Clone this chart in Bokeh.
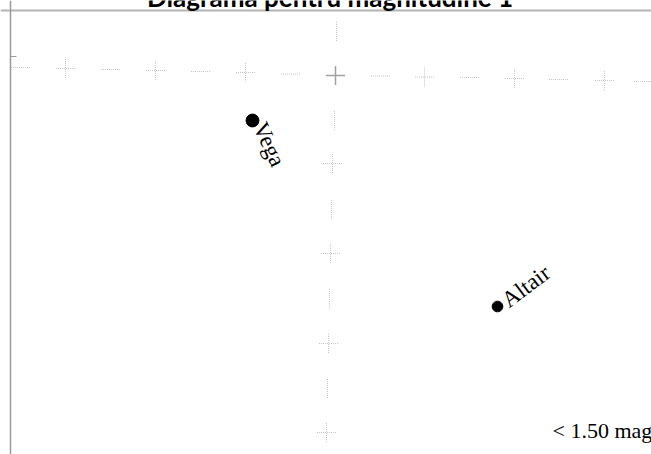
from bokeh.plotting import figure
from bokeh.models import Range1d, Label, Span
from bokeh.core.properties import value
from bokeh.embed import file_html
from bokeh.resources import INLINE

# ---- data (chart coordinates) ----
title_text = "Diagrama  pentru  magnitudine  1"
limit_text = "< 1.50 mag"

star_names = ["Vega", "Altair"]
star_x = [252, 497]
star_y = [120, 306]
star_mag = [0.03, 0.77]

# reference grid: one parallel (row) and one meridian (column)
row_cross_x = [65, 155, 245, 424, 514, 604]
row_cross_y = [68, 70, 72, 76.5, 78, 80]
row_dash_x = [20, 110, 200, 290, 380, 469, 558, 643]
row_dash_y = [67, 69, 71, 73.5, 75.5, 77, 79, 81]
col_cross_x = [332, 330, 328, 326]
col_cross_y = [163, 253, 343, 432]
col_dash_x = [336, 334, 331, 329, 327]
col_dash_y = [31, 120, 209, 298, 388]
center_x = [335]
center_y = [75]
left_tick_y = [56]

# ---- styles ----
ARM = 9.5
GRID_COL = "#c4c4c4"
SERIF = value("Liberation Serif")

p = figure(width=651, height=454, output_backend="svg", toolbar_location=None,
           x_range=Range1d(0, 651), y_range=Range1d(454, 0),
           x_axis_type=None, y_axis_type=None, min_border=0,
           outline_line_color=None, background_fill_color="white",
           border_fill_color="white")
p.grid.visible = False

# frame lines
p.add_layout(Span(location=10, dimension="width", line_color="#b4b4b4", line_width=2))
p.add_layout(Span(location=10, dimension="height", line_color="#9a9a9a", line_width=1.5))
p.segment(x0=[10] * len(left_tick_y), y0=left_tick_y,
          x1=[16] * len(left_tick_y), y1=left_tick_y, line_color="#9a9a9a", line_width=1)

# small dotted crosses
cx = row_cross_x + col_cross_x
cy = row_cross_y + col_cross_y
p.segment(x0=[x - ARM for x in cx], y0=cy, x1=[x + ARM for x in cx], y1=cy,
          line_color=GRID_COL, line_width=1, line_dash="1 1")
p.segment(x0=cx, y0=[y - ARM for y in cy], x1=cx, y1=[y + ARM for y in cy],
          line_color=GRID_COL, line_width=1, line_dash="1 1")
# dotted dashes
p.segment(x0=[x - ARM for x in row_dash_x], y0=row_dash_y,
          x1=[x + ARM for x in row_dash_x], y1=row_dash_y,
          line_color=GRID_COL, line_width=1, line_dash="1 1")
p.segment(x0=col_dash_x, y0=[y - ARM for y in col_dash_y],
          x1=col_dash_x, y1=[y + ARM for y in col_dash_y],
          line_color=GRID_COL, line_width=1, line_dash="1 1")
# center cross
p.segment(x0=[x - ARM for x in center_x], y0=center_y, x1=[x + ARM for x in center_x], y1=center_y,
          line_color="#a0a0a0", line_width=1.5)
p.segment(x0=center_x, y0=[y - ARM for y in center_y], x1=center_x, y1=[y + ARM for y in center_y],
          line_color="#a0a0a0", line_width=1.5)

# stars
sizes = [13 - 3 * m for m in star_mag]
p.scatter(star_x, star_y, size=sizes, color="black")

label_angle = [-65, 37]
label_dx = [7, 7]
label_dy = [3, -4]
p.text(x=star_x, y=star_y, text=star_names, angle=label_angle, angle_units="deg",
       x_offset=label_dx, y_offset=label_dy,
       text_font=SERIF, text_font_size="23px", text_color="black",
       text_align="left", text_baseline="middle")

p.add_layout(Label(x=552, y=430, text=limit_text, text_font="Liberation Serif",
                   text_font_size="22px", text_color="black", text_baseline="alphabetic"))
p.add_layout(Label(x=339, y=-3.5, text=title_text, text_font="Lato", text_font_style="bold",
                   text_font_size="26px", text_color="black", text_align="center",
                   text_baseline="alphabetic"))

open("out.html", "w").write(file_html(p, INLINE))
